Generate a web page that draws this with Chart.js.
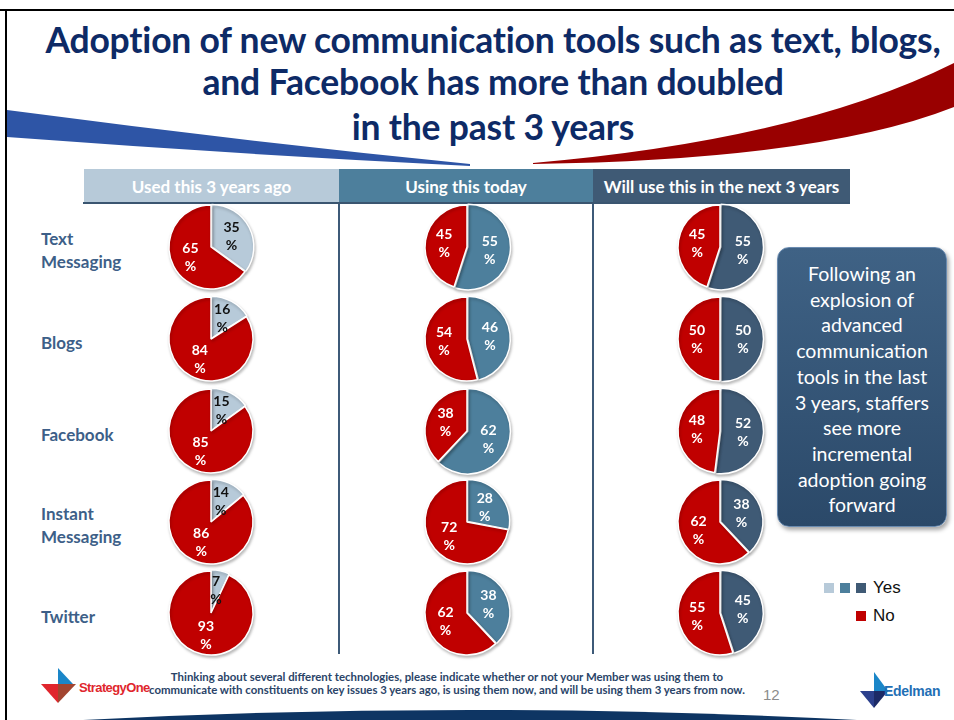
<!DOCTYPE html>
<html>
<head>
<meta charset="utf-8">
<script src="https://cdn.jsdelivr.net/npm/chart.js@4.4.0/dist/chart.umd.min.js"></script>
<style>
  body { margin: 0; background: #fff; }
  #slide { position: relative; width: 954px; height: 720px; overflow: hidden; background: #fff; font-family: Lato, "Open Sans", sans-serif; }
  .abs { position: absolute; }
  #title { left: 0; width: 986px; top: 19px; text-align: center; color: #0d2a66; font-weight: 700; font-size: 35.5px; line-height: 42px; letter-spacing: -0.2px; }
  .hdr { top: 169px; height: 33px; line-height: 35px; color: #fff; font-weight: 700; font-size: 17px; text-align: center; }
  .vline { width: 2px; background: #3d5a78; top: 204px; height: 450px; }
  .rowlab { left: 41px; color: #3d5f88; font-weight: 700; font-size: 17px; line-height: 23px; white-space: pre-line; transform: translateY(-50%); }
  .pie { width: 110px; height: 110px; }
  #callout { left: 777px; top: 247px; width: 170px; height: 280px; border-radius: 12px; background: linear-gradient(#3f6285, #2b4969); border: 1px solid #6a8bb0; box-shadow: 2px 3px 4px rgba(0,0,0,0.35); box-sizing: border-box; color: #fff; font-size: 19.5px; line-height: 25.7px; text-align: center; padding-top: 13px; }
  .lg { width: 10px; height: 10px; }
  .lgt { font-family: "Liberation Sans", Arial, sans-serif; font-size: 17px; color: #111; }
  #foot { left: 130px; width: 634px; top: 670px; text-align: center; color: #2a4468; font-weight: 700; font-size: 11.4px; line-height: 13px; }
</style>
</head>
<body>
<div id="slide">
  <svg class="abs" style="left:0;top:0" width="954" height="720">
    <line x1="0" y1="10" x2="954" y2="10" stroke="#000" stroke-width="2"/>
    <line x1="6" y1="10" x2="6" y2="720" stroke="#000" stroke-width="2"/>
    <path d="M7,110 Q241,141 470,164 L470,166 Q241,154.5 7,137 Z" fill="#2e55a6"/>
    <path d="M954,63 Q800,140 533,163 L533,164 Q820,160 954,107 Z" fill="#990000"/>
    <path d="M83,720 Q470,700 857,720 Z" fill="#0e3563"/>
    <!-- StrategyOne logo -->
    <polygon points="58,668 58,684 73,684" fill="#1a86c8"/>
    <polygon points="41,684 58,684 58,703" fill="#e0262d"/>
    <polygon points="58,684 76,684 58,703" fill="#a24530"/>
    <text x="79" y="692" font-family="Liberation Sans, Arial" font-weight="700" font-size="13" fill="#e0262d" letter-spacing="-0.6">StrategyOne</text>
    <!-- Edelman logo -->
    <polygon points="874,672 874,691 888,691" fill="#1a86c8"/>
    <polygon points="860,691 874,691 874,708" fill="#2b3f8c"/>
    <polygon points="874,691 888,691 874,708" fill="#1c2a66"/>
    <text x="884" y="696" font-family="Liberation Sans, Arial" font-weight="700" font-size="14" fill="#1f6fb5" letter-spacing="-0.3">Edelman</text>
    <text x="763" y="700" font-family="Liberation Sans, Arial" font-size="15" fill="#8c8c8c">12</text>
  </svg>

  <div id="title" class="abs">Adoption of new communication tools such as text, blogs,<br>and Facebook has more than doubled<br><span style="position:relative;top:3px">in the past 3 years</span></div>

  <div class="abs" style="left:83px;top:202px;width:767px;height:2px;background:#3a5570"></div>
  <div class="abs vline" style="left:338px"></div>
  <div class="abs vline" style="left:592px"></div>

  <div id="callout" class="abs">Following an<br>explosion of<br>advanced<br>communication<br>tools in the last<br>3 years, staffers<br>see more<br>incremental<br>adoption going<br>forward</div>

  <div class="abs lg" style="left:824px;top:583px;background:#b7cad9"></div>
  <div class="abs lg" style="left:840px;top:583px;background:#4d7f9c"></div>
  <div class="abs lg" style="left:856px;top:583px;background:#3f5a75"></div>
  <div class="abs lgt" style="left:873px;top:578px">Yes</div>
  <div class="abs lg" style="left:856px;top:611px;background:#c00000"></div>
  <div class="abs lgt" style="left:873px;top:606px">No</div>

  <div id="foot" class="abs">Thinking about several different technologies, please indicate whether or not your Member was using them to<br>communicate with constituents on key issues 3 years ago, is using them now, and will be using them 3 years from now.</div>
</div>

<script>
// data
const categories = ['Text\nMessaging', 'Blogs', 'Facebook', 'Instant\nMessaging', 'Twitter'];
const periods = ['Used this 3 years ago', 'Using this today', 'Will use this in the next 3 years'];
const yesAgo = [35, 16, 15, 14, 7];
const noAgo = [65, 84, 85, 86, 93];
const yesToday = [55, 46, 62, 28, 38];
const noToday = [45, 54, 38, 72, 62];
const yesFuture = [55, 50, 52, 38, 45];
const noFuture = [45, 50, 48, 62, 55];

const yesColors = ['#b7cad9', '#4d7f9c', '#3f5a75'];
const noColor = '#c00000';
const colX = [211, 467, 720];
const rowY = [247, 339, 431, 522, 613];
const hdrBounds = [[84, 339], [339, 593], [593, 850]];

const slide = document.getElementById('slide');

periods.forEach(function(p, i) {
    var d = document.createElement('div');
    d.className = 'abs hdr';
    d.style.left = hdrBounds[i][0] + 'px';
    d.style.width = (hdrBounds[i][1] - hdrBounds[i][0]) + 'px';
    d.style.background = yesColors[i];
    d.textContent = p;
    slide.appendChild(d);
});

categories.forEach(function(c, r) {
    var d = document.createElement('div');
    d.className = 'abs rowlab';
    d.style.top = (rowY[r] + 3) + 'px';
    d.textContent = c;
    slide.appendChild(d);
});

// soft shadow under the pies
const shadowPlugin = {
    id: 'pieShadow',
    beforeDatasetsDraw(chart) {
        const ctx = chart.ctx;
        ctx.save();
        ctx.shadowColor = 'rgba(0,0,0,0.25)';
        ctx.shadowBlur = 3;
        ctx.shadowOffsetX = 1;
        ctx.shadowOffsetY = 2;
    },
    afterDatasetsDraw(chart) {
        chart.ctx.restore();
    }
};

// value labels inside slices, "NN" over "%"
const labelPlugin = {
    id: 'sliceLabels',
    afterDraw(chart) {
        const ctx = chart.ctx;
        const meta = chart.getDatasetMeta(0);
        const vals = chart.data.datasets[0].data;
        const colors = chart.options.plugins.sliceLabels.colors;
        ctx.save();
        ctx.font = 'bold 14px Lato, sans-serif';
        ctx.textAlign = 'center';
        ctx.textBaseline = 'middle';
        meta.data.forEach(function(arc, i) {
            const p = arc.getProps(['x', 'y', 'startAngle', 'endAngle', 'outerRadius'], true);
            const mid = (p.startAngle + p.endAngle) / 2;
            const r = p.outerRadius * 0.55;
            const x = p.x + Math.cos(mid) * r;
            const y = p.y + Math.sin(mid) * r;
            ctx.fillStyle = colors[i];
            ctx.fillText(String(vals[i]), x, y - 9);
            ctx.fillText('%', x, y + 9);
        });
        ctx.restore();
    }
};

const yesSets = [yesAgo, yesToday, yesFuture];
const noSets = [noAgo, noToday, noFuture];

for (let c = 0; c < 3; c++) {
    for (let r = 0; r < categories.length; r++) {
        const cv = document.createElement('canvas');
        cv.className = 'abs pie';
        cv.width = 110;
        cv.height = 110;
        cv.style.left = (colX[c] - 55) + 'px';
        cv.style.top = (rowY[r] - 55) + 'px';
        slide.appendChild(cv);
        new Chart(cv.getContext('2d'), {
            type: 'pie',
            data: {
                labels: ['Yes', 'No'],
                datasets: [{
                    data: [yesSets[c][r], noSets[c][r]],
                    backgroundColor: [yesColors[c], noColor],
                    borderColor: '#ffffff',
                    borderWidth: 1.5,
                    offset: [3, 0]
                }]
            },
            options: {
                responsive: false,
                animation: false,
                radius: 42,
                layout: { padding: 0 },
                plugins: {
                    legend: { display: false },
                    tooltip: { enabled: false },
                    sliceLabels: { colors: [c === 0 ? '#111111' : '#ffffff', '#ffffff'] }
                }
            },
            plugins: [shadowPlugin, labelPlugin]
        });
    }
}
</script>
</body>
</html>
